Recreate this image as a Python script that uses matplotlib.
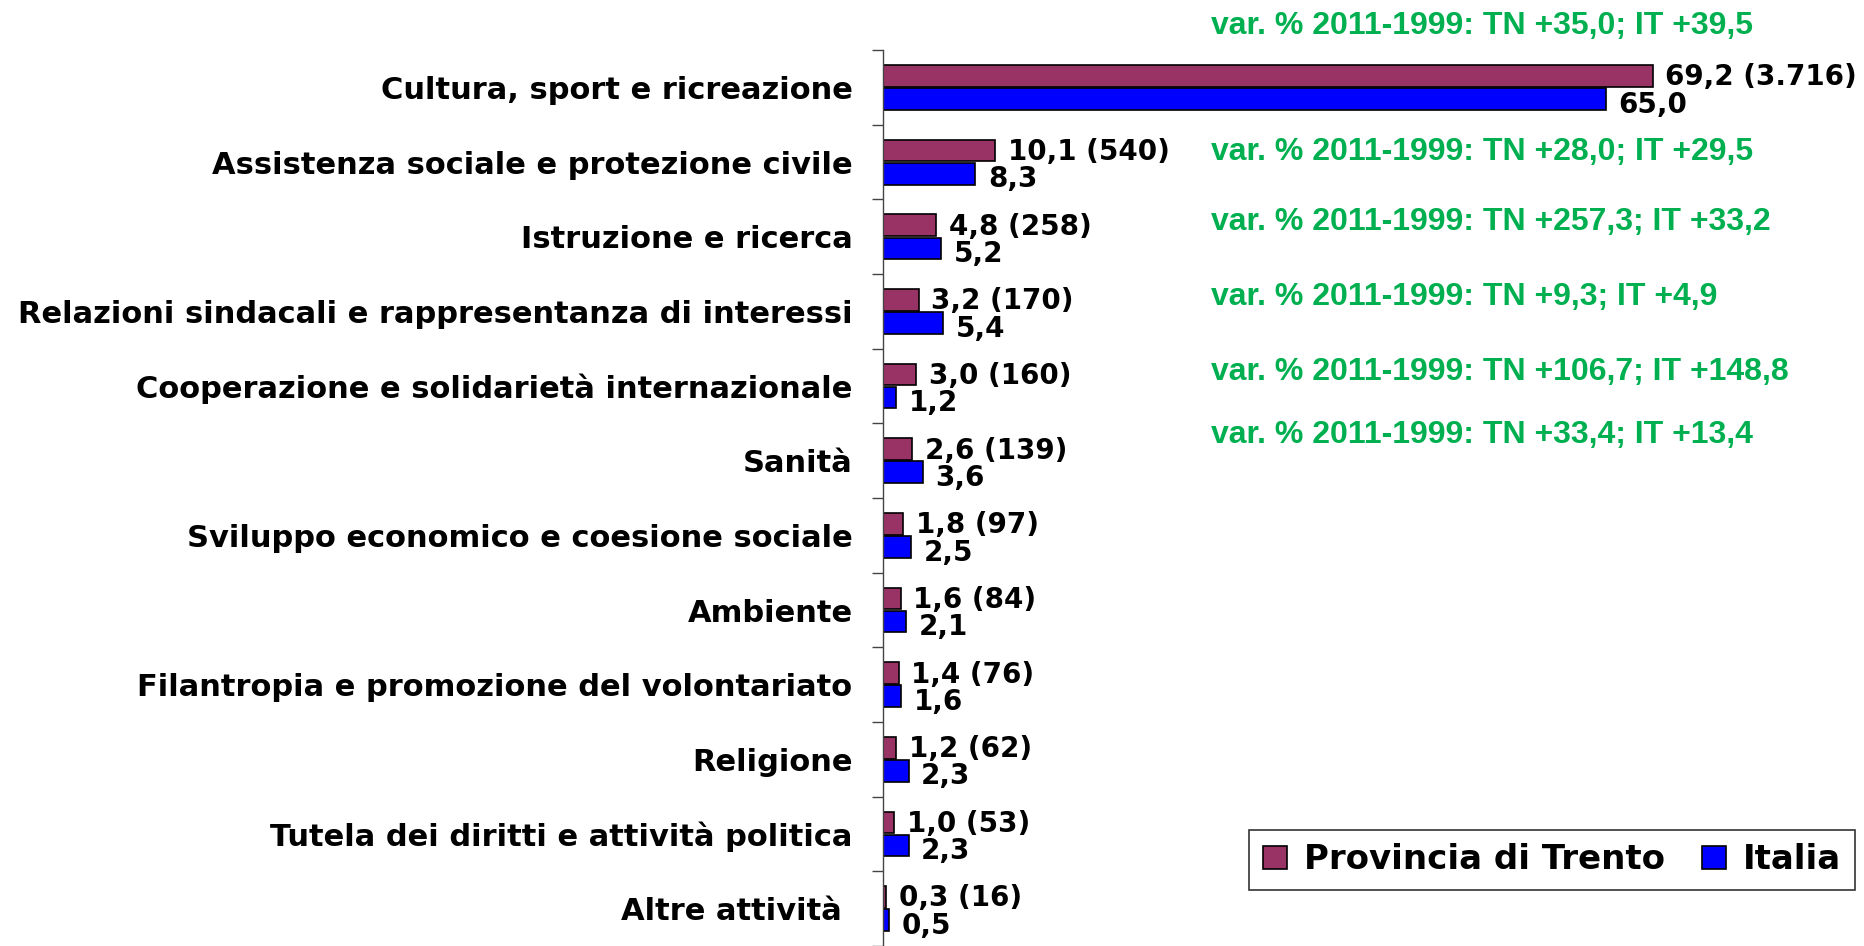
import matplotlib
matplotlib.use("Agg")
import matplotlib.pyplot as plt
import numpy as np

plt.rcParams['font.family'] = ['DejaVu Sans']
plt.rcParams['font.weight'] = 'bold'

categories = [
    'Cultura, sport e ricreazione',
    'Assistenza sociale e protezione civile',
    'Istruzione e ricerca',
    'Relazioni sindacali e rappresentanza di interessi',
    'Cooperazione e solidarietà internazionale',
    'Sanità',
    'Sviluppo economico e coesione sociale',
    'Ambiente',
    'Filantropia e promozione del volontariato',
    'Religione',
    'Tutela dei diritti e attività politica',
    'Altre attività ',
]
trento_pct = [69.2, 10.1, 4.8, 3.2, 3.0, 2.6, 1.8, 1.6, 1.4, 1.2, 1.0, 0.3]
trento_n = [3716, 540, 258, 170, 160, 139, 97, 84, 76, 62, 53, 16]
italia_pct = [65.0, 8.3, 5.2, 5.4, 1.2, 3.6, 2.5, 2.1, 1.6, 2.3, 2.3, 0.5]

# variazioni 2011-1999 (prime sei categorie)
var_tn = ['+35,0', '+28,0', '+257,3', '+9,3', '+106,7', '+33,4']
var_it = ['+39,5', '+29,5', '+33,2', '+4,9', '+148,8', '+13,4']
var_y = [-0.82, 0.865, 1.8, 2.81, 3.81, 4.65]

maroon = '#993366'
blue = '#0000FF'
green = '#00B050'


def it_num(v, dec=1):
    s = f"{v:,.{dec}f}"
    return s.replace(',', 'X').replace('.', ',').replace('X', '.')


fig = plt.figure(figsize=(18.65, 9.46), dpi=100)
ax = fig.add_axes([0.4735, 0.0, 0.519, 0.947])

y = np.arange(len(categories))
h = 0.29
ax.barh(y - 0.155, trento_pct, height=h, color=maroon, edgecolor='black',
        linewidth=1.2, label='Provincia di Trento')
ax.barh(y + 0.155, italia_pct, height=h, color=blue, edgecolor='black',
        linewidth=1.2, label='Italia')

for i in range(len(categories)):
    ax.annotate(f"{it_num(trento_pct[i])} ({it_num(trento_n[i], 0)})",
                (trento_pct[i], y[i] - 0.155), xytext=(9, -1),
                textcoords='offset points', va='center', ha='left',
                fontsize=20, fontweight='bold')
    ax.annotate(it_num(italia_pct[i]), (italia_pct[i], y[i] + 0.155),
                xytext=(9, -4), textcoords='offset points', va='center',
                ha='left', fontsize=20, fontweight='bold')

for tn, itv, yy in zip(var_tn, var_it, var_y):
    ax.text(29.5, yy, f"var. % 2011-1999: TN {tn}; IT {itv}", color=green,
            fontsize=23, fontweight='bold', va='center', ha='left',
            family=['Liberation Sans', 'DejaVu Sans'])

ax.set_xlim(0, 87)
ax.set_ylim(len(categories) - 0.5, -0.5)
ax.set_yticks(y)
ax.set_yticklabels(categories, fontsize=22, fontweight='bold')
ax.set_yticks(np.arange(-0.5, len(categories), 1.0), minor=True)
ax.tick_params(axis='y', which='major', length=0, pad=22)
ax.tick_params(axis='y', which='minor', length=8, width=1, color='#444444')
ax.set_xticks([])
for s in ['top', 'right', 'bottom']:
    ax.spines[s].set_visible(False)
ax.spines['left'].set_color('#444444')
ax.spines['left'].set_linewidth(1.0)

leg = ax.legend(loc='lower right', bbox_to_anchor=(1.004, 0.0625), ncol=2,
                fontsize=24.5, frameon=True, fancybox=False, edgecolor='black',
                handlelength=0.7, handleheight=0.7, handletextpad=0.5,
                columnspacing=1.1, borderpad=0.4, borderaxespad=0)
leg.get_frame().set_linewidth(1.2)
for t in leg.get_texts():
    t.set_fontweight('bold')

fig.savefig('out.png', dpi=100)
